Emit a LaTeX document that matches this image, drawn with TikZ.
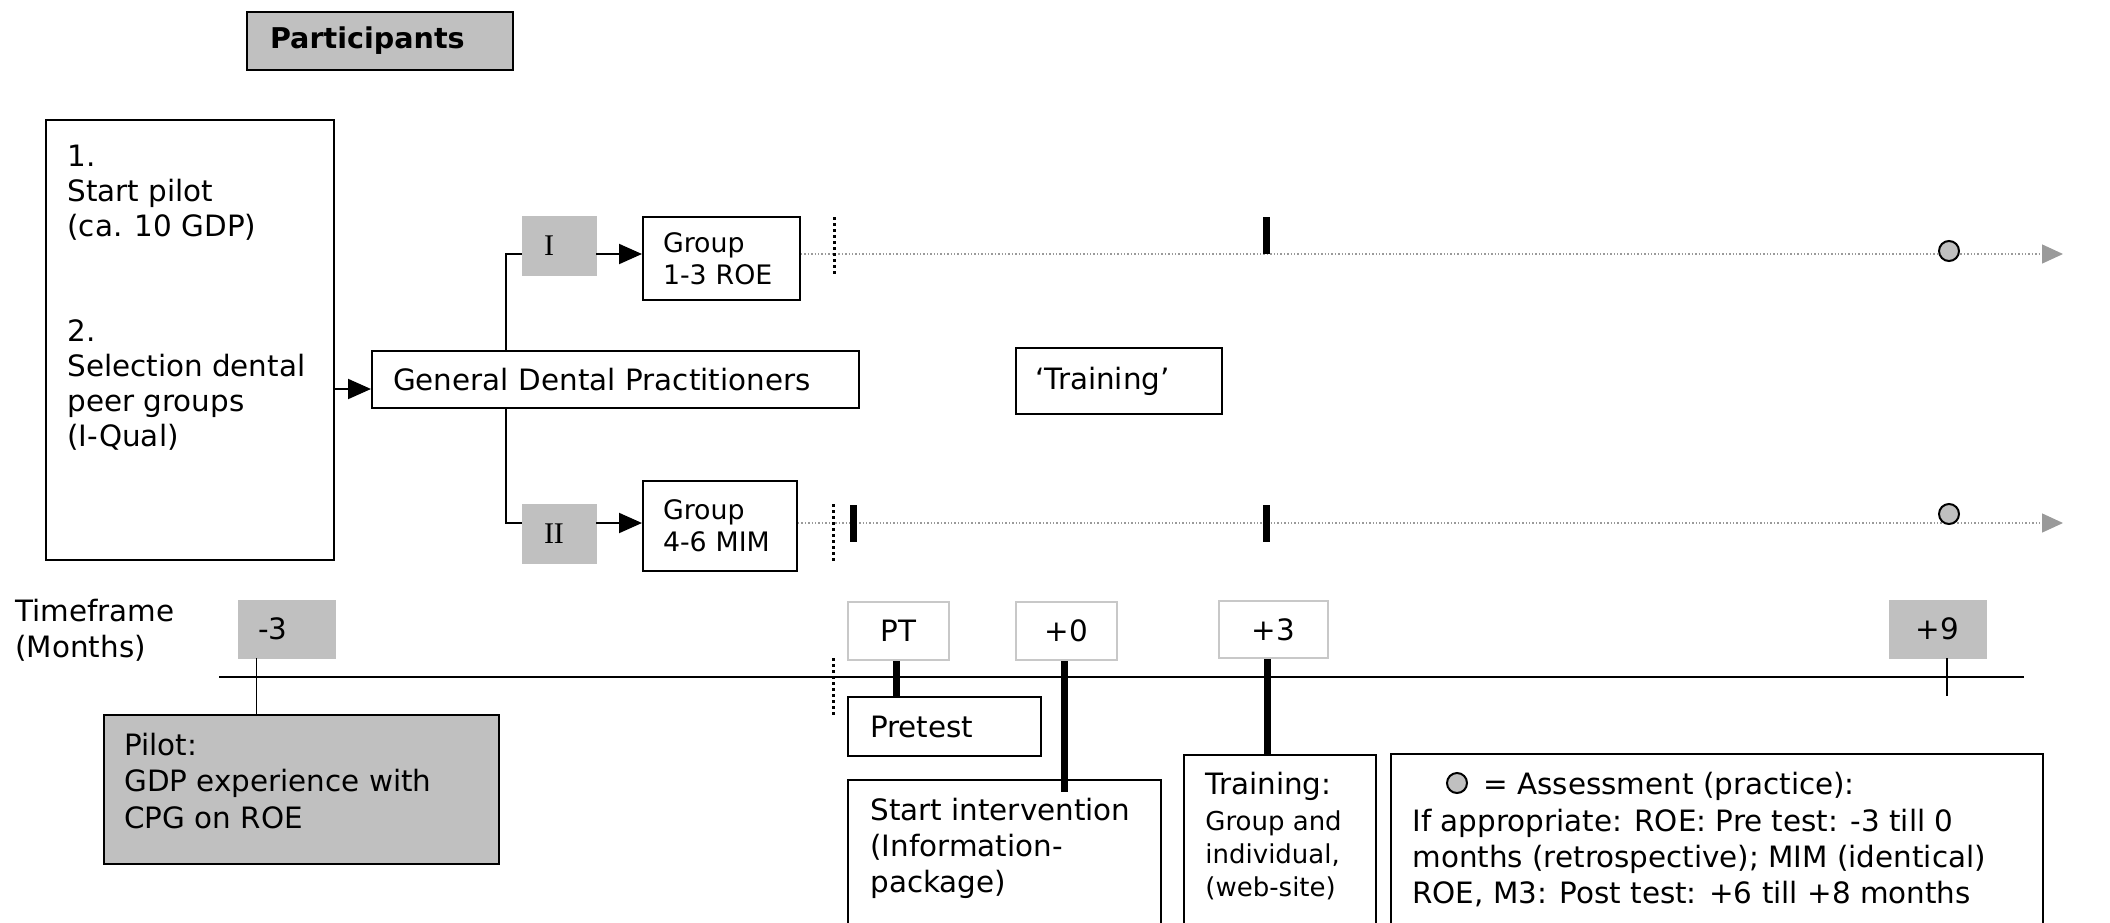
\documentclass[tikz,border=0pt]{standalone}
\usepackage{fontspec}
\setmainfont{DejaVu Sans}
\newfontfamily\romanfont{Liberation Serif}
\usetikzlibrary{arrows.meta,calc}
\definecolor{boxgray}{HTML}{C0C0C0}
\definecolor{rimgray}{HTML}{C8C8C8}
\definecolor{linegray}{HTML}{9A9A9A}

\begin{document}
\begin{tikzpicture}[x=0.5pt,y=-0.5pt,
  every node/.style={font=\fontsize{14.7}{17.5}\selectfont},
  box/.style={draw,line width=1pt,inner sep=0pt,align=left},
  greybox/.style={fill=boxgray,draw=boxgray,inner sep=0pt,align=left},
  rimbox/.style={draw=rimgray,line width=1pt,fill=white,inner sep=0pt},
  txt/.style={anchor=base west,inner sep=0pt,align=left},
  conn/.style={line width=1pt},
  arr/.style={line width=1pt,-{Triangle[length=11.5pt,width=10pt]}},
  track/.style={linegray,line width=0.7pt,densely dotted,-{Triangle[length=10.5pt,width=9.5pt]}},
  fence/.style={line width=1.5pt,dash pattern=on 1.5pt off 1.5pt},
  bar/.style={line width=3.5pt},
  tick/.style={line width=0.6pt},
  dot/.style={circle,draw,fill=boxgray,line width=1pt,minimum size=10pt,inner sep=0pt}]
  \useasboundingbox (0,0) rectangle (2110,922);
  \clip (0,0) rectangle (2110,922);

  \node[box,fill=boxgray,text width=110pt,inner xsep=11.5pt,minimum height=29pt,font=\bfseries\fontsize{14.3}{17}\selectfont] (part) at (380,41) {Participants};

  \node[box,minimum width=144pt,minimum height=220pt] (selbox) at (190,340) {};
  \node[txt] (seltext) at (67,446) {1.\\Start pilot\\(ca. 10 GDP)\\[35pt]2.\\Selection dental\\peer groups\\(I-Qual)};

  \node[box,text width=222.5pt,inner xsep=10.5pt,minimum height=28.5pt] (gdp) at (615.5,379.5) {General Dental Practitioners};
  \node[greybox,text width=15pt,inner xsep=11pt,minimum height=29.5pt,font=\romanfont\fontsize{15}{18}\selectfont] (romanI) at (559,245.5) {I};
  \node[greybox,text width=15pt,inner xsep=11pt,minimum height=29.5pt,font=\romanfont\fontsize{15}{18}\selectfont] (romanII) at (559,533.5) {II};
  \node[box,text width=58.5pt,inner xsep=10pt,minimum height=41.5pt,font=\fontsize{13.4}{16}\selectfont] (grpI) at (721.5,258.5) {Group\\1-3 ROE};
  \node[box,text width=57pt,inner xsep=10pt,minimum height=45pt,font=\fontsize{13.4}{16}\selectfont] (grpII) at (720,526) {Group\\4-6 MIM};
  \node[box,text width=84pt,inner xsep=9.5pt,minimum height=33pt] (trainq) at (1119,381) {‘Training’};

  \coordinate (gdpin) at ($(gdp.west)+(0,9.5)$);
  \coordinate (rowI) at (0,254);
  \coordinate (rowII) at (0,523);
  \coordinate (endI) at (2063,254);
  \coordinate (endII) at (2063,523);
  \draw[arr] (selbox.east |- gdpin) -- (gdpin);
  \draw[conn] ($(gdp.north west)+(135,0)$) |- (romanI.west |- rowI);
  \draw[conn] ($(gdp.south west)+(135,0)$) |- (romanII.west |- rowII);
  \draw[arr] (romanI.east |- rowI) -- (grpI.west |- rowI);
  \draw[arr] (romanII.east |- rowII) -- (grpII.west |- rowII);
  \draw[track] (grpI.east |- rowI) -- (endI);
  \draw[track] (grpII.east |- rowII) -- (endII);

  \draw[fence] (834,217) -- (834,274);
  \draw[fence] (833,504) -- (833,562);
  \draw[fence] (833,658) -- (833,715);
  \draw[bar] (1266,217) -- (1266,254);
  \draw[bar] (853,505) -- (853,542);
  \draw[bar] (1266,505) -- (1266,542);
  \node[dot] (asmI) at (1949,251) {};
  \node[dot] (asmII) at (1949,514) {};

  \node[txt,font=\fontsize{14.7}{18}\selectfont] (frame) at (15,657) {Timeframe\\(Months)};
  \coordinate (axisL) at (219,677);
  \coordinate (axisR) at (2024,677);
  \draw[line width=1pt] (axisL) -- (axisR);

  \node[greybox,text width=28.5pt,inner xsep=10pt,minimum height=29pt] (mthree) at (286.5,629) {-3};
  \node[rimbox,minimum width=50.5pt,minimum height=29pt] (ptest) at (898.5,631) {PT};
  \node[rimbox,minimum width=50.5pt,minimum height=29pt] (pzero) at (1066.5,631) {+0};
  \node[rimbox,minimum width=54.5pt,minimum height=28.5pt] (pthree) at (1273.5,629.5) {+3};
  \node[greybox,minimum width=48.5pt,minimum height=29pt] (pnine) at (1937.5,629) {+9};

  \node[box,fill=boxgray,minimum width=197.5pt,minimum height=74.5pt] (pilot) at (301.5,789.5) {};
  \node[txt,font=\fontsize{14.7}{18.25}\selectfont] (pilottext) at (124,828) {Pilot:\\GDP experience with\\CPG on ROE};
  \node[box,text width=74.5pt,inner xsep=11pt,minimum height=29.5pt] (pretest) at (944.5,726.5) {Pretest};
  \node[box,minimum width=156.5pt,minimum height=90pt] (startbox) at (1004.5,870) {};
  \node[txt,font=\fontsize{14.7}{18}\selectfont] (starttext) at (870,892) {Start intervention\\(Information-\\package)};
  \node[box,minimum width=96pt,minimum height=102.5pt] (trainbox) at (1280,857.5) {};
  \node[txt] (trainhead) at (1205,794) {Training:};
  \node[txt,font=\fontsize{13}{16.5}\selectfont] (trainbody) at (1205,896) {Group and\\individual,\\(web-site)};
  \node[box,minimum width=326pt,minimum height=103pt] (legbox) at (1717,857) {};
  \node[dot] (legdot) at (1457,783) {};
  \node[txt] (legtext) at (1483,794) {= Assessment (practice):};
  \node[txt,font=\fontsize{14.7}{18}\selectfont] (legbody) at (1412,903) {If appropriate: ROE: Pre test: -3 till 0\\months (retrospective); MIM (identical)\\ROE, M3: Post test: +6 till +8 months};

  \draw[tick] ($(mthree.south west)+(19,0)$) -- ($(mthree.south west |- pilot.north)+(19,0)$);
  \draw[tick] ($(pnine.south)+(9.5,0)$) -- ($(pnine.south)+(9.5,38)$);
  \draw[bar] ($(ptest.south)+(-2.5,0)$) -- ($(ptest.south |- pretest.north)+(-2.5,0)$);
  \draw[bar] ($(pzero.south)+(-2.5,0)$) -- ($(pzero.south |- startbox.north)+(-2.5,13)$);
  \draw[bar] ($(pthree.south)+(-6.5,0)$) -- ($(pthree.south |- trainbox.north)+(-6.5,0)$);
\end{tikzpicture}
\end{document}
